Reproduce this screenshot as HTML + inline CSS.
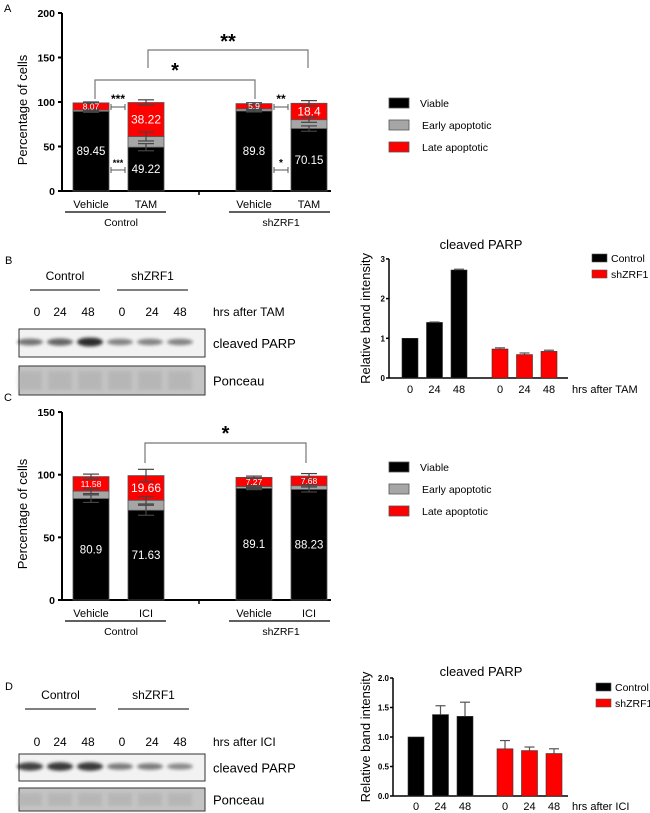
<!DOCTYPE html>
<html><head><meta charset="utf-8">
<style>
html,body{margin:0;padding:0;background:#fff;}
svg{display:block;font-family:"Liberation Sans",Arial,sans-serif;}
</style></head>
<body>
<svg id="fig" width="650" height="813" viewBox="0 0 650 813" xmlns="http://www.w3.org/2000/svg">
<defs>
<filter id="blur1" x="-20%" y="-50%" width="140%" height="200%"><feGaussianBlur stdDeviation="1.6"/></filter>
</defs>
<g id="panelA"></g>
<g id="panelB"></g>
<g id="panelC"></g>
<g id="panelD"></g>
</svg>
<script>
// ---- Panel A data ----
const aCategories = ["Vehicle","TAM","Vehicle","TAM"];
const aViable = [89.45, 49.22, 89.8, 70.15];
const aEarly = [1.5, 12, 2.5, 10];
const aLate = [8.07, 38.22, 5.9, 18.4];
const aViableErr = [1, 4, 1, 3];
const aEarlyErr = [1, 5, 1, 3];
const aLateErr = [1, 3, 1, 3];
const aTicks = [0, 50, 100, 150, 200];
// ---- Panel C data ----
const cCategories = ["Vehicle","ICI","Vehicle","ICI"];
const cViable = [80.9, 71.63, 89.1, 88.23];
const cEarly = [6, 8, 1.5, 3];
const cLate = [11.58, 19.66, 7.27, 7.68];
const cViableErr = [3, 4, 1, 2];
const cEarlyErr = [2, 3, 1, 1];
const cLateErr = [2, 5, 1, 2];
const cTicks = [0, 50, 100, 150];
// ---- Panel B bar data ----
const bTimes = ["0","24","48"];
const bControl = [1, 1.4, 2.72];
const bControlErr = [0, 0.01, 0.02];
const bShZRF1 = [0.73, 0.59, 0.67];
const bShZRF1Err = [0.03, 0.04, 0.03];
const bTicks = [0, 1, 2, 3];
// ---- Panel D bar data ----
const dTimes = ["0","24","48"];
const dControl = [1, 1.38, 1.35];
const dControlErr = [0, 0.15, 0.24];
const dShZRF1 = [0.8, 0.77, 0.72];
const dShZRF1Err = [0.14, 0.06, 0.08];
const dTicks = ["0.0","0.5","1.0","1.5","2.0"];
// blot band intensities (0..1)
const bBands = [0.45, 0.55, 0.95, 0.35, 0.35, 0.35];
const dBands = [0.8, 0.85, 0.85, 0.4, 0.4, 0.3];

const NS = "http://www.w3.org/2000/svg";
function mk(parent, tag, attrs, text){
  const e = document.createElementNS(NS, tag);
  for (const k in attrs) e.setAttribute(k, attrs[k]);
  if (text !== undefined) e.textContent = text;
  parent.appendChild(e);
  return e;
}
function txt(parent, x, y, s, size, opts){
  opts = opts || {};
  const t = mk(parent, "text", {x:x, y:y, "font-size":size, fill:opts.fill||"#000",
    "text-anchor":opts.anchor||"middle", "font-weight":opts.weight||"normal"}, s);
  if (opts.rotate) t.setAttribute("transform", "rotate(-90 "+x+" "+y+")");
  return t;
}

function stackedPanel(g, cfg){
  const y = v => cfg.y0 - v * cfg.pxPerUnit;
  const xc = i => 91 + (i % 2) * 55 + Math.floor(i / 2) * 163;
  const bw = 36;
  const ya = mk(g, "line", {x1:62, y1:y(cfg.max), x2:62, y2:cfg.y0, stroke:"#000", "stroke-width":2});
  
  
  const xa = mk(g, "line", {x1:62, y1:cfg.y0, x2:331, y2:cfg.y0, stroke:"#000", "stroke-width":2});
  
  
  mk(g, "line", {x1:199, y1:cfg.y0, x2:199, y2:cfg.y0+4, stroke:"#000", "stroke-width":1.5});
  cfg.ticks.forEach(t => {
    mk(g, "line", {x1:58, y1:y(t), x2:62, y2:y(t), stroke:"#000", "stroke-width":2});
    const tl = txt(g, 55, y(t)+4, String(t), 10.5, {anchor:"end", weight:"bold"});
    
    
  });
  const yt = txt(g, 27, (cfg.y0 + y(cfg.max))/2 + 8, "Percentage of cells", 13, {rotate:true});
  
  
  cfg.cats.forEach((c, i) => {
    const cx = xc(i), x0 = cx - bw/2;
    const v = cfg.viable[i], e = cfg.early[i], l = cfg.late[i];
    const segs = [[0, v, "#000", cfg.viableErr[i]], [v, v+e, "#a6a6a6", cfg.earlyErr[i]], [v+e, v+e+l, "#ff0000", cfg.lateErr[i]]];
    segs.forEach((s, k) => {
      const r = mk(g, "rect", {x:x0, y:y(s[1]), width:bw, height:y(s[0])-y(s[1]), fill:s[2], stroke:"#555", "stroke-width":0.8});
      
      
    });
    segs.forEach(s => {
      const up = y(s[1] + s[3]), dn = y(s[1] - s[3]);
      const col = "#444";
      mk(g, "line", {x1:cx, y1:up, x2:cx, y2:dn, stroke:col, "stroke-width":1.2});
      mk(g, "line", {x1:cx-8, y1:up, x2:cx+8, y2:up, stroke:col, "stroke-width":1.2});
      mk(g, "line", {x1:cx-8, y1:dn, x2:cx+8, y2:dn, stroke:col, "stroke-width":1.2});
    });
    const vl = txt(g, cx, y(v/2)+4, String(v), 11.5, {fill:"#fff"});
    
    
    const small = l < 12;
    const ll = txt(g, cx, y(v+e+l/2)+(small?3:4), String(l), small?8.5:12, {fill:"#fff"});
    
    
    const xl = txt(g, cx, cfg.y0+17, c, 11);
    
    
  });
  [[65,166,"Control",121],[229,330,"shZRF1",281]].forEach(gr => {
    mk(g, "line", {x1:gr[0], y1:cfg.y0+21, x2:gr[1], y2:cfg.y0+21, stroke:"#000", "stroke-width":1.2});
    const gl = txt(g, gr[3], cfg.y0+35, gr[2], 10.5);
    
    
  });
  const ly = cfg.legendY;
  [["Viable","#000"],["Early apoptotic","#a6a6a6"],["Late apoptotic","#ff0000"]].forEach((it, k) => {
    const r = mk(g, "rect", {x:389, y:ly + k*22, width:20, height:10, fill:it[1], stroke:"#555", "stroke-width":0.8});
    
    
    const t = txt(g, k===0?420:422, ly + k*22 + 9, it[0], 10.5, {anchor:"start"});
    
    
  });
  return {y:y, xc:xc};
}

function bracket(g, x1, x2, yTop, yBot, label, ly, size){
  mk(g, "polyline", {points: x1+","+yBot+" "+x1+","+yTop+" "+x2+","+yTop+" "+x2+","+yBot, fill:"none", stroke:"#777", "stroke-width":1.2});
  const t = txt(g, (x1+x2)/2, ly, label, size||18, {weight:"bold"});
  
  
}
function smallBracket(g, x1, x2, yy, label, size){
  mk(g, "line", {x1:x1, y1:yy, x2:x2, y2:yy, stroke:"#555", "stroke-width":1});
  mk(g, "line", {x1:x1, y1:yy-3, x2:x1, y2:yy+3, stroke:"#555", "stroke-width":1});
  mk(g, "line", {x1:x2, y1:yy-3, x2:x2, y2:yy+3, stroke:"#555", "stroke-width":1});
  const t = txt(g, (x1+x2)/2, yy-4, label, size, {weight:"bold"});
  
  
}

const gA = document.getElementById("panelA");
txt(gA, 4, 12, "A", 11, {anchor:"start"});
stackedPanel(gA, {y0:191, pxPerUnit:0.89, max:200, ticks:aTicks, cats:aCategories, viable:aViable, early:aEarly, late:aLate,
  viableErr:aViableErr, earlyErr:aEarlyErr, lateErr:aLateErr, legendY:98});
bracket(gA, 95, 255, 80, 99, "*", 77, 20);
bracket(gA, 148, 308, 50, 68, "**", 48, 20);
smallBracket(gA, 111, 125, 107, "***", 12);
smallBracket(gA, 111, 125, 170, "***", 9);
smallBracket(gA, 274, 288, 107, "**", 12);
smallBracket(gA, 274, 288, 170, "*", 10);

const gC = document.getElementById("panelC");
txt(gC, 4, 401, "C", 11, {anchor:"start"});
stackedPanel(gC, {y0:600, pxPerUnit:1.253, max:150, ticks:cTicks, cats:cCategories, viable:cViable, early:cEarly, late:cLate,
  viableErr:cViableErr, earlyErr:cEarlyErr, lateErr:cLateErr, legendY:462});
bracket(gC, 145, 306, 443, 463, "*", 440, 20);

function blot(g, cfg){
  txt(g, 5, cfg.letterY, cfg.letter, 11, {anchor:"start"});
  [[cfg.l1[0],cfg.l1[1],"Control"],[cfg.l2[0],cfg.l2[1],"shZRF1"]].forEach(gr => {
    const t = txt(g, (gr[0]+gr[1])/2, cfg.lineY-10, gr[2], 12);
    
    
    mk(g, "line", {x1:gr[0], y1:cfg.lineY, x2:gr[1], y2:cfg.lineY, stroke:"#000", "stroke-width":1});
  });
  const lanes = [37, 60, 88, 122, 152, 180];
  ["0","24","48","0","24","48"].forEach((s, i) => txt(g, lanes[i], cfg.numY, s, 12));
  txt(g, 213, cfg.numY, cfg.hrs, 12, {anchor:"start"});
  const b1 = mk(g, "rect", {x:19, y:cfg.b1[0], width:186, height:cfg.b1[1]-cfg.b1[0], fill:"#f2f2f2", stroke:"#333", "stroke-width":1});
  
  
  const bands = [30, 60, 90, 120, 150, 180];
  cfg.bands.forEach((v, i) => {
    mk(g, "ellipse", {cx:bands[i], cy:(cfg.b1[0]+cfg.b1[1])/2 - 1, rx:13, ry:2.5 + v*2, fill:"#000", opacity:0.25 + v*0.6, filter:"url(#blur1)"});
  });
  txt(g, 213, (cfg.b1[0]+cfg.b1[1])/2 + 5, "cleaved PARP", 13, {anchor:"start"});
  const b2 = mk(g, "rect", {x:19, y:cfg.b2[0], width:186, height:cfg.b2[1]-cfg.b2[0], fill:"#c4c4c4", stroke:"#333", "stroke-width":1});
  
  
  bands.forEach(x => mk(g, "rect", {x:x-12, y:cfg.b2[0]+5, width:24, height:cfg.b2[1]-cfg.b2[0]-10, fill:"#aaa", opacity:0.5, filter:"url(#blur1)"}));
  txt(g, 213, (cfg.b2[0]+cfg.b2[1])/2 + 5, "Ponceau", 13, {anchor:"start"});
}
const gB = document.getElementById("panelB");
blot(gB, {letter:"B", letterY:264, lineY:290, l1:[30,100], l2:[117,188], numY:316, hrs:"hrs after TAM", b1:[329,357], b2:[366,395], bands:bBands});
const gD = document.getElementById("panelD");
blot(gD, {letter:"D", letterY:690, lineY:709, l1:[25,96], l2:[118,189], numY:746, hrs:"hrs after ICI", b1:[754,781], b2:[788,811], bands:dBands});

function barChart(g, cfg){
  const y = v => cfg.y0 - v * cfg.ppu;
  const ax = cfg.ax;
  mk(g, "line", {x1:ax, y1:y(cfg.max), x2:ax, y2:cfg.y0, stroke:"#000", "stroke-width":1.5});
  mk(g, "line", {x1:ax, y1:cfg.y0, x2:568, y2:cfg.y0, stroke:"#000", "stroke-width":1.5});
  cfg.ticks.forEach(t => {
    const v = parseFloat(t);
    mk(g, "line", {x1:ax-3, y1:y(v), x2:ax, y2:y(v), stroke:"#000", "stroke-width":1.5});
    txt(g, ax-4, y(v)+3, t, 8, {anchor:"end", weight:"bold"});
  });
  const yt = txt(g, 370, cfg.y0 - (cfg.y0 - y(cfg.max))/2, "Relative band intensity", 13, {rotate:true});
  
  
  const tt = txt(g, 481, cfg.titleY, "cleaved PARP", 13);
  
  
  const bw = 16;
  const series = [[cfg.ctrl, cfg.ctrlErr, "#000", cfg.x1], [cfg.sh, cfg.shErr, "#ff0000", cfg.x2]];
  series.forEach((s, si) => {
    s[0].forEach((v, i) => {
      const x = s[3] + i * 24.5;
      const r = mk(g, "rect", {x:x, y:y(v), width:bw, height:cfg.y0 - y(v), fill:s[2], stroke:"#333", "stroke-width":0.6});
      
      
      const e = s[1][i];
      if (e > 0) {
        mk(g, "line", {x1:x+bw/2, y1:y(v), x2:x+bw/2, y2:y(v+e), stroke:"#555", "stroke-width":1.2});
        mk(g, "line", {x1:x+bw/2-5, y1:y(v+e), x2:x+bw/2+5, y2:y(v+e), stroke:"#555", "stroke-width":1.2});
      }
      txt(g, x+bw/2, cfg.y0+cfg.tickOff, cfg.times[i], 11);
    });
  });
  txt(g, 572, cfg.y0+cfg.tickOff, cfg.hrs, 11, {anchor:"start"});
  [["Control","#000"],["shZRF1","#ff0000"]].forEach((it, k) => {
    const r = mk(g, "rect", {x:cfg.lx, y:cfg.ly + k*16, width:15, height:8, fill:it[1], stroke:"#555", "stroke-width":0.6});
    
    
    const t = txt(g, cfg.lx+19, cfg.ly + k*16 + 8, it[0], 10.5, {anchor:"start"});
    
    
  });
}
barChart(gB, {y0:378, ppu:39.7, max:3, ax:389, ticks:bTicks.map(String), ctrl:bControl, ctrlErr:bControlErr, sh:bShZRF1, shErr:bShZRF1Err,
  x1:402, x2:492, times:bTimes, hrs:"hrs after TAM", tickOff:15, titleY:249, lx:592, ly:254});
barChart(gD, {y0:796, ppu:59, max:2, ax:393, ticks:dTicks, ctrl:dControl, ctrlErr:dControlErr, sh:dShZRF1, shErr:dShZRF1Err,
  x1:408, x2:497, times:dTimes, hrs:"hrs after ICI", tickOff:14, titleY:676, lx:596, ly:683});
</script>
</body></html>
